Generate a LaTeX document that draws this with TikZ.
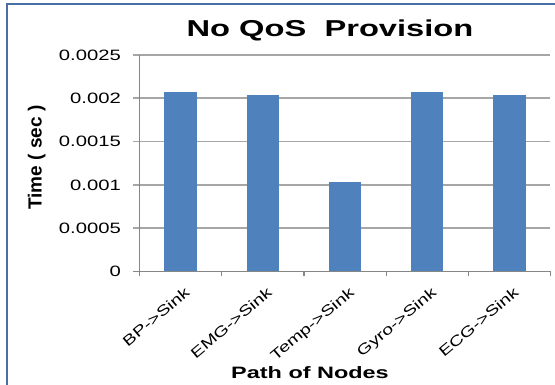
\documentclass[tikz,border=0pt]{standalone}
\usepackage{fontspec}
\usepackage{tikz}
\newfontfamily\chartfont[FakeStretch=1.35]{Liberation Sans}
\newfontfamily\titlefont[FakeStretch=1.42]{Liberation Sans}
\newfontfamily\plainfont{Liberation Sans}
\definecolor{barblue}{HTML}{4F81BD}
\definecolor{gridgray}{HTML}{A6A6A6}
\definecolor{axisgray}{HTML}{868686}
\definecolor{frameblue}{HTML}{4A6FA5}
\def\chartbar(#1:#2){\fill[barblue] ({#1-16.2}, 271.7) rectangle ({#1+16.2}, {271.7-86.6*#2});}
\tikzset{
  ticklabel/.style={anchor=east, inner sep=0pt, font=\chartfont\fontsize{15}{15}\selectfont},
  catlabel/.style={anchor=north east, inner sep=0pt, rotate=40, font=\chartfont\fontsize{14.5}{14.5}\selectfont}
}

\begin{document}
\begin{tikzpicture}[x=1pt, y=-1pt]
			%%%%% START %%%%%
			\useasboundingbox (0, 0) rectangle (555, 385);
			
			\draw[line width=2pt, color=frameblue] (6.7, 385) -- (6.7, 4) -- (555, 4);
			
			\node[anchor=base, inner sep=0pt, font=\titlefont\bfseries\fontsize{23}{23}\selectfont] (title) at (330, 36.5) {No QoS \ Provision};
			
			\draw[line width=1.6pt, color=gridgray] (133, 55) -- (550, 55);
			\draw[line width=1.6pt, color=gridgray] (133, 98.3) -- (550, 98.3);
			\draw[line width=1.6pt, color=gridgray] (133, 141.7) -- (550, 141.7);
			\draw[line width=1.6pt, color=gridgray] (133, 185) -- (550, 185);
			\draw[line width=1.6pt, color=gridgray] (133, 228.3) -- (550, 228.3);
			
			\chartbar(180.6:2.075)
			\chartbar(262.8:2.04)
			\chartbar(345.0:1.032)
			\chartbar(427.2:2.075)
			\chartbar(509.4:2.04)
			
			\draw[line width=1.6pt, color=axisgray] (139.4, 55) -- (139.4, 271.7);
			\draw[line width=1.6pt, color=axisgray] (133, 271.7) -- (550.5, 271.7);
			\draw[line width=1.2pt, color=axisgray] (139.4, 271.7) -- (139.4, 276.5);
			\draw[line width=1.2pt, color=axisgray] (221.7, 271.7) -- (221.7, 276.5);
			\draw[line width=1.2pt, color=axisgray] (303.9, 271.7) -- (303.9, 276.5);
			\draw[line width=1.2pt, color=axisgray] (386.1, 271.7) -- (386.1, 276.5);
			\draw[line width=1.2pt, color=axisgray] (468.3, 271.7) -- (468.3, 276.5);
			\draw[line width=1.2pt, color=axisgray] (550.5, 271.7) -- (550.5, 276.5);
			
			\node[ticklabel] (t0) at (121, 271.7) {0};
			\node[ticklabel] (t1) at (121, 228.3) {0.0005};
			\node[ticklabel] (t2) at (121, 185) {0.001};
			\node[ticklabel] (t3) at (121, 141.7) {0.0015};
			\node[ticklabel] (t4) at (121, 98.3) {0.002};
			\node[ticklabel] (t5) at (121, 55) {0.0025};
			
			\node[catlabel] (bp) at (184, 286) {BP->Sink};
			\node[catlabel] (emg) at (266.2, 286) {EMG->Sink};
			\node[catlabel] (temp) at (348.4, 286) {Temp->Sink};
			\node[catlabel] (gyro) at (430.6, 286) {Gyro->Sink};
			\node[catlabel] (ecg) at (512.8, 286) {ECG->Sink};
			
			\node[anchor=base, inner sep=0pt, rotate=90, font=\plainfont\bfseries\fontsize{19}{19}\selectfont] (ytitle) at (41.7, 157.5) {Time ( sec )};
			\node[anchor=base, inner sep=0pt, font=\titlefont\bfseries\fontsize{16.5}{16.5}\selectfont] (xtitle) at (310, 378.5) {Path of Nodes};
			
			%%%%% END %%%%%
		\end{tikzpicture}
\end{document}
